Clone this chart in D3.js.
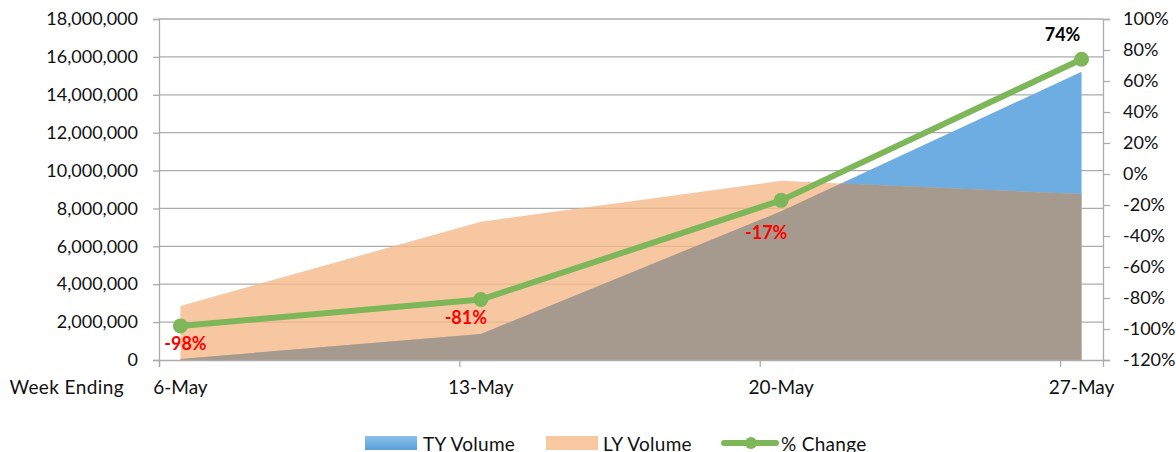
<!DOCTYPE html>
<html>
<head>
<meta charset="utf-8">
<script src="https://cdn.jsdelivr.net/npm/d3@7"></script>
<style>
  html, body { margin: 0; padding: 0; background: #fff; }
  svg text { font-family: Lato, "Noto Sans", sans-serif; }
</style>
</head>
<body>
<svg id="chart" width="1176" height="452"></svg>
<script>
// 数据
const weekLabels = ["6-May", "13-May", "20-May", "27-May"];
const weekDates = ["2012-05-06", "2012-05-13", "2012-05-20", "2012-05-27"];
const tyVolume = [57000, 1370000, 7850000, 15220000];
const lyVolume = [2850000, 7300000, 9460000, 8760000];
const pctChange = [-0.98, -0.81, -0.17, 0.74];
const pctLabels = ["-98%", "-81%", "-17%", "74%"];

const leftTicks = d3.range(0, 18000001, 2000000);
const rightTicks = d3.range(-1.2, 1.0001, 0.2);

const svg = d3.select("#chart");
const plot = { left: 159, right: 1103, top: 19, bottom: 360 };

const parseDay = d3.timeParse("%Y-%m-%d");
const days = weekDates.map(parseDay);
const noon = d => d3.timeHour.offset(d, 12);

// 日期轴：每天一个格子，数据点在格子中间
const x = d3.scaleTime()
    .domain([days[0], d3.timeDay.offset(days[days.length - 1], 1)])
    .range([plot.left, plot.right]);

const yLeft = d3.scaleLinear().domain([0, 18000000]).range([plot.bottom, plot.top]);
const yRight = d3.scaleLinear().domain([-1.2, 1.0]).range([plot.bottom, plot.top]);

const rows = days.map((d, i) => ({
    date: noon(d), ty: tyVolume[i], ly: lyVolume[i], pct: pctChange[i], label: pctLabels[i]
}));

const gridColor = "#ababab";
const pctFormat = d => d3.format(".0%")(d).replace("\u2212", "-");

// 网格线 + 左轴
const gLeft = svg.append("g").attr("transform", `translate(${plot.left},0)`);
gLeft.call(d3.axisLeft(yLeft)
        .tickValues(leftTicks)
        .tickSize(6)
        .tickPadding(15)
        .tickFormat(d3.format(",")))
    .call(g => g.select(".domain").attr("stroke", gridColor).attr("stroke-width", 1.3))
    .call(g => g.selectAll(".tick line").attr("stroke", gridColor).attr("stroke-width", 1.3))
    .call(g => g.selectAll(".tick text").attr("font-size", 18).attr("fill", "#111"));

svg.append("g")
    .selectAll("line")
    .data(leftTicks.slice(1))
    .join("line")
    .attr("x1", plot.left).attr("x2", plot.right)
    .attr("y1", d => yLeft(d)).attr("y2", d => yLeft(d))
    .attr("stroke", gridColor).attr("stroke-width", 1.3);

// 面积
const areaTY = d3.area().x(d => x(d.date)).y0(plot.bottom).y1(d => yLeft(d.ty));
const areaLY = d3.area().x(d => x(d.date)).y0(plot.bottom).y1(d => yLeft(d.ly));

svg.append("defs").append("clipPath").attr("id", "lyClip")
    .append("path").attr("d", areaLY(rows));

svg.append("path").attr("d", areaTY(rows)).attr("fill", "#6eade1");
svg.append("path").attr("d", areaLY(rows)).attr("fill", "#f5b98a").attr("fill-opacity", 0.8);
svg.append("path").attr("d", areaTY(rows)).attr("fill", "#a69a8e").attr("clip-path", "url(#lyClip)");

// 底部轴
const gX = svg.append("g").attr("transform", `translate(0,${plot.bottom})`);
gX.call(d3.axisBottom(x).tickValues(days).tickSize(7).tickFormat(""))
    .call(g => g.select(".domain").attr("stroke", gridColor).attr("stroke-width", 1.3))
    .call(g => g.selectAll(".tick line").attr("stroke", gridColor).attr("stroke-width", 1.3));

svg.append("g")
    .selectAll("text")
    .data(rows)
    .join("text")
    .attr("x", d => x(d.date))
    .attr("y", 394)
    .attr("text-anchor", "middle")
    .attr("font-size", 19)
    .attr("fill", "#111")
    .text((d, i) => weekLabels[i]);

svg.append("text")
    .attr("x", 124).attr("y", 394)
    .attr("text-anchor", "end")
    .attr("font-size", 19)
    .attr("letter-spacing", 0.4)
    .attr("fill", "#111")
    .text("Week Ending");

// 右轴
const gRight = svg.append("g").attr("transform", `translate(${plot.right},0)`);
gRight.call(d3.axisRight(yRight)
        .tickValues(rightTicks)
        .tickSize(7)
        .tickPadding(13)
        .tickFormat(pctFormat))
    .call(g => g.select(".domain").attr("stroke", gridColor).attr("stroke-width", 1.3))
    .call(g => g.selectAll(".tick line").attr("stroke", gridColor).attr("stroke-width", 1.3))
    .call(g => g.selectAll(".tick text").attr("font-size", 18).attr("fill", "#111"));

// 折线 % Change
const green = "#7eb75a";
const line = d3.line().x(d => x(d.date)).y(d => yRight(d.pct));

svg.append("path")
    .attr("d", line(rows))
    .attr("fill", "none")
    .attr("stroke", green)
    .attr("stroke-width", 6)
    .attr("stroke-linejoin", "round");

svg.append("g")
    .selectAll("circle")
    .data(rows)
    .join("circle")
    .attr("cx", d => x(d.date))
    .attr("cy", d => yRight(d.pct))
    .attr("r", 7.5)
    .attr("fill", green);

// 数据标签（手动位置）
const labelOffsets = [[5, 24], [-15, 24], [-15, 39], [-19, -18]];
svg.append("g")
    .selectAll("text")
    .data(rows)
    .join("text")
    .attr("x", (d, i) => x(d.date) + labelOffsets[i][0])
    .attr("y", (d, i) => yRight(d.pct) + labelOffsets[i][1])
    .attr("text-anchor", "middle")
    .attr("font-size", 18)
    .attr("font-weight", "bold")
    .attr("fill", d => d.pct < 0 ? "#ff0000" : "#000")
    .text(d => d.label);

// 图例
const legend = svg.append("g");
const grad = svg.select("defs").append("linearGradient")
    .attr("id", "tyGrad").attr("x1", 0).attr("y1", 0).attr("x2", 0).attr("y2", 1);
grad.append("stop").attr("offset", "0%").attr("stop-color", "#8cc0ec");
grad.append("stop").attr("offset", "100%").attr("stop-color", "#5a9fd8");

legend.append("rect").attr("x", 365).attr("y", 436).attr("width", 52).attr("height", 14).attr("fill", "url(#tyGrad)");
legend.append("text").attr("x", 423).attr("y", 451).attr("font-size", 19).attr("letter-spacing", 0.3).attr("fill", "#111").text("TY Volume");

legend.append("rect").attr("x", 546).attr("y", 436).attr("width", 52).attr("height", 14).attr("fill", "#f8c8a0");
legend.append("text").attr("x", 603).attr("y", 451).attr("font-size", 19).attr("letter-spacing", 0.3).attr("fill", "#111").text("LY Volume");

legend.append("line").attr("x1", 724).attr("x2", 776).attr("y1", 443).attr("y2", 443)
    .attr("stroke", green).attr("stroke-width", 6).attr("stroke-linecap", "round");
legend.append("circle").attr("cx", 751).attr("cy", 443).attr("r", 6).attr("fill", green);
legend.append("text").attr("x", 781).attr("y", 451).attr("font-size", 19).attr("letter-spacing", 0.3).attr("fill", "#111").text("% Change");
</script>
</body>
</html>
